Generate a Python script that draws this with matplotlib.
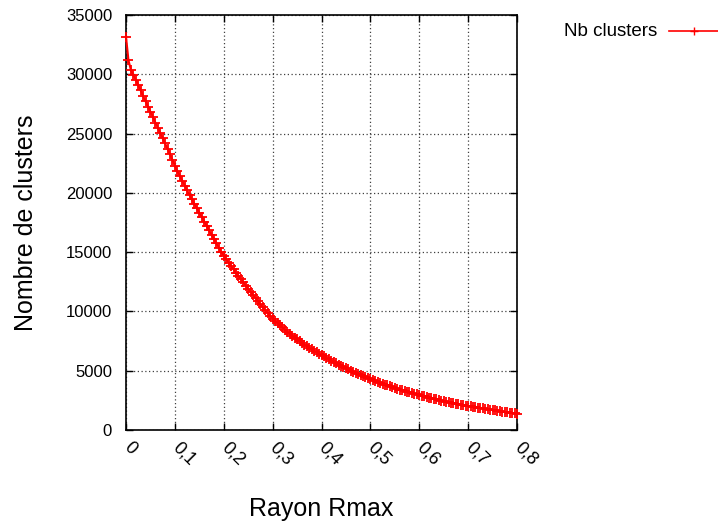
import numpy as np
import matplotlib.pyplot as plt
from matplotlib.lines import Line2D

plt.rcParams['font.family'] = ['Liberation Sans', 'DejaVu Sans']

# rayon Rmax, pas de 0.005
rayon = np.linspace(0.0, 0.8, 161)

# nombre de clusters (un point tous les 0.005)
nb_clusters = [
    33170, 31200, 30360, 29940, 29520, 29100, 28650, 28180, 27720, 27280,
    26830, 26380, 25930, 25480, 25030, 24600, 24170, 23720, 23260, 22770,
    22250, 21840, 21430, 21020, 20610, 20210, 19820, 19440, 19060, 18690,
    18320, 17950, 17580, 17210, 16840, 16470, 16100, 15730, 15360, 15000,
    14700, 14405, 14115, 13830, 13550, 13270, 12995, 12720, 12450, 12180,
    11910, 11645, 11380, 11120, 10860, 10600, 10350, 10100, 9855, 9620,
    9400, 9205, 9014, 8827, 8645, 8467, 8293, 8124, 7959, 7798,
    7642, 7490, 7342, 7199, 7060, 6925, 6795, 6669, 6547, 6430,
    6317, 6200, 6082, 5966, 5852, 5740, 5630, 5522, 5416, 5312,
    5210, 5110, 5012, 4916, 4822, 4730, 4640, 4552, 4466, 4382,
    4300, 4218, 4137, 4058, 3980, 3904, 3829, 3756, 3684, 3614,
    3545, 3478, 3412, 3348, 3285, 3224, 3164, 3106, 3049, 2994,
    2940, 2885, 2831, 2778, 2726, 2675, 2625, 2576, 2528, 2481,
    2435, 2390, 2346, 2303, 2261, 2220, 2180, 2141, 2103, 2066,
    2030, 1993, 1957, 1921, 1886, 1851, 1817, 1783, 1750, 1717,
    1685, 1653, 1622, 1591, 1560, 1530, 1500, 1470, 1441, 1412,
    1384,
]

xticks = [0, 0.1, 0.2, 0.3, 0.4, 0.5, 0.6, 0.7, 0.8]
xticklabels = ['0', '0,1', '0,2', '0,3', '0,4', '0,5', '0,6', '0,7', '0,8']
yticks = [0, 5000, 10000, 15000, 20000, 25000, 30000, 35000]

fig = plt.figure(figsize=(7.18, 5.25), dpi=100)
ax = fig.add_axes([126 / 718, 95 / 525, 391 / 718, 415 / 525])

ax.plot(rayon, nb_clusters, color='red', lw=1.5, marker='+', ms=6.5, mew=1.3,
        clip_on=False, zorder=3)

ax.set_xlim(0, 0.8)
ax.set_ylim(0, 35000)
ax.set_xticks(xticks)
ax.set_xticklabels(xticklabels, rotation=-45, ha='left', va='center',
                   rotation_mode='anchor', fontsize=13)
ax.set_yticks(yticks)
ax.set_yticklabels([str(v) for v in yticks], fontsize=12)

ax.tick_params(direction='in', length=5, width=1, top=True, right=True)
ax.tick_params(axis='x', pad=11)
ax.tick_params(axis='y', pad=10)
for sp in ax.spines.values():
    sp.set_linewidth(1.2)

ax.grid(True, color='0.25', linestyle=(0, (1, 2)), linewidth=0.9)

ax.set_xlabel('Rayon Rmax', fontsize=18, labelpad=20)
ax.set_ylabel('Nombre de clusters', fontsize=18, labelpad=20)

# legende a droite, style gnuplot
fig.text(657 / 718, 1 - 31 / 525, 'Nb clusters', ha='right', va='center',
         fontsize=13.5)
fig.add_artist(Line2D([669 / 718, 1.0], [1 - 31 / 525, 1 - 31 / 525],
                      color='red', lw=1.2, transform=fig.transFigure))
fig.add_artist(Line2D([694 / 718], [1 - 31 / 525], color='red', marker='+',
                      ms=6, mew=1.0, transform=fig.transFigure))

fig.savefig('out.png', dpi=100)
